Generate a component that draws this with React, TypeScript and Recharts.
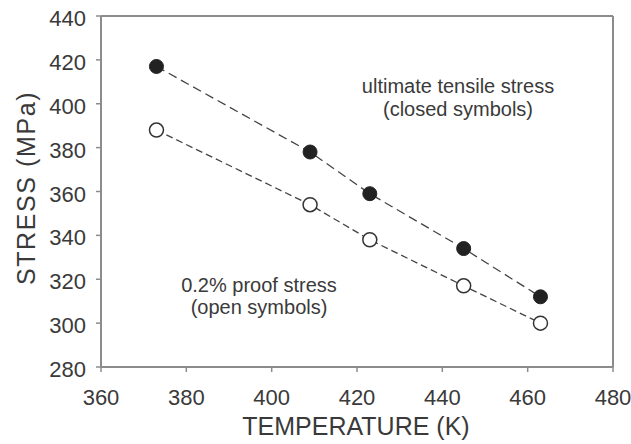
import React from 'react';
import { LineChart, Line, XAxis, YAxis, Customized } from 'recharts';

const temperatures = [373, 409, 423, 445, 463];
const ultimateStress = [417, 378, 359, 334, 312];
const proofStress = [388, 354, 338, 317, 300];
const xTicks = [360, 380, 400, 420, 440, 460, 480];
const yTicks = [280, 300, 320, 340, 360, 380, 400, 420, 440];

const utsData = temperatures.map((t, i) => ({ t, v: ultimateStress[i] }));
const proofData = temperatures.map((t, i) => ({ t, v: proofStress[i] }));

const FONT = '"Liberation Sans", Arial, sans-serif';
const AXIS = '#8c8c8c';
const TXT = '#3a3a3a';

const XTick = (props: any) => {
  const { x, y, payload } = props;
  return (
    <text x={x} y={y} dy={15} textAnchor="middle" fontSize={22} fill={TXT} fontFamily={FONT}>
      {payload.value}
    </text>
  );
};

const YTick = (props: any) => {
  const { x, y, payload } = props;
  return (
    <text x={x} y={y} dy={10} textAnchor="end" fontSize={22} fill={TXT} fontFamily={FONT}>
      {payload.value}
    </text>
  );
};

const Texts = () => (
  <g fontFamily={FONT} fill={TXT}>
    <text x={356} y={435} textAnchor="middle" fontSize={25}>TEMPERATURE (K)</text>
    <text x={0} y={0} textAnchor="middle" fontSize={25} letterSpacing={1.6}
      transform="translate(35,188) rotate(-90)">STRESS (MPa)</text>
    <text x={458} y={93} textAnchor="middle" fontSize={20}>ultimate tensile stress</text>
    <text x={458} y={116} textAnchor="middle" fontSize={20}>(closed symbols)</text>
    <text x={259} y={292} textAnchor="middle" fontSize={20}>0.2% proof stress</text>
    <text x={259} y={314} textAnchor="middle" fontSize={20}>(open symbols)</text>
  </g>
);

export default function App() {
  return (
    <div style={{ position: 'absolute', left: 0, top: 0, background: '#fff' }}>
      <LineChart width={631} height={444} margin={{ top: 16, right: 18, left: 0, bottom: 0 }}
        style={{ fontFamily: FONT }}>
        <XAxis xAxisId="b" dataKey="t" type="number" domain={[360, 480]} ticks={xTicks}
          allowDataOverflow height={77} stroke={AXIS} strokeWidth={2}
          tickSize={5} tickMargin={18} tick={<XTick />} tickLine={{ stroke: AXIS, strokeWidth: 1.5 }} />
        <XAxis xAxisId="t" orientation="top" dataKey="t" type="number" domain={[360, 480]}
          allowDataOverflow ticks={xTicks} height={1} mirror stroke={AXIS} strokeWidth={2} tick={false}
          tickSize={5} tickLine={{ stroke: AXIS, strokeWidth: 1.5 }} />
        <YAxis yAxisId="l" type="number" domain={[280, 440]} ticks={yTicks} width={101}
          allowDataOverflow stroke={AXIS} strokeWidth={2} tickSize={5} tickMargin={10} tick={<YTick />}
          tickLine={{ stroke: AXIS, strokeWidth: 1.5 }} />
        <YAxis yAxisId="r" orientation="right" type="number" domain={[280, 440]} ticks={yTicks}
          allowDataOverflow width={1} mirror stroke={AXIS} strokeWidth={2} tick={false} tickSize={5}
          tickLine={{ stroke: AXIS, strokeWidth: 1.5 }} />
        <Line xAxisId="t" yAxisId="r" data={utsData} dataKey="v" stroke="none" dot={false}
          activeDot={false} isAnimationActive={false} />
        <Line xAxisId="b" yAxisId="l" data={utsData} dataKey="v" stroke="#444" strokeWidth={1.3}
          strokeDasharray="9 5" isAnimationActive={false}
          dot={{ r: 7, fill: '#222', stroke: '#222', strokeWidth: 1, strokeDasharray: '0' }} activeDot={false} />
        <Line xAxisId="b" yAxisId="l" data={proofData} dataKey="v" stroke="#444" strokeWidth={1.3}
          strokeDasharray="7 4" isAnimationActive={false}
          dot={{ r: 7, fill: '#fff', stroke: '#333', strokeWidth: 1.5, strokeDasharray: '0' }} activeDot={false} />
        <Customized component={Texts} />
      </LineChart>
    </div>
  );
}
